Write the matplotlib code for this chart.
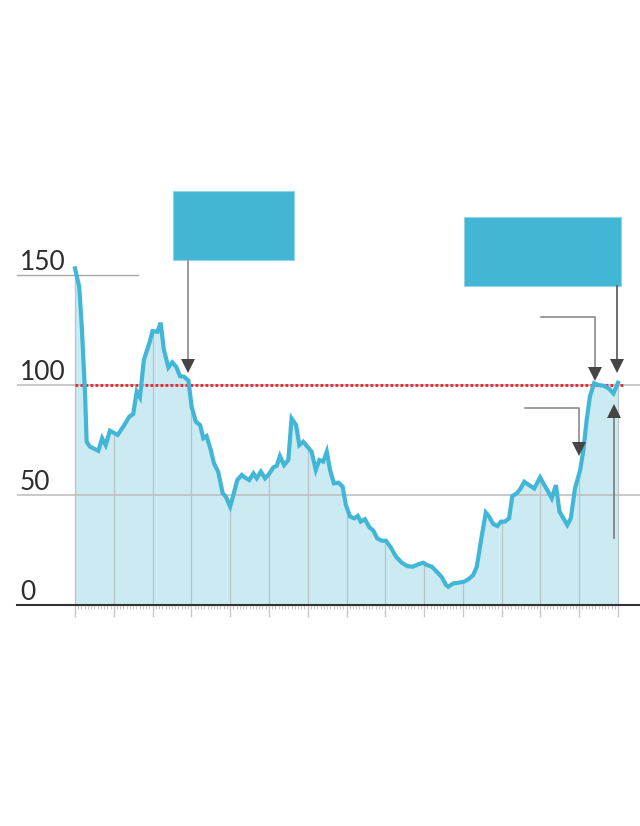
import numpy as np
import matplotlib
matplotlib.use("Agg")
import matplotlib.pyplot as plt
from matplotlib.patches import Rectangle

# ---- data (x in months from start, y = index value) ----
months = [0, 1.3, 2.1, 3.1, 3.6, 4.6, 5.7, 7.2, 8.4, 9.5, 10.8, 13.2, 14.9, 16.8, 18.0,
          19.1, 20.1, 21.3, 23.0, 24.0, 25.5, 26.5, 27.5, 28.9, 30.1, 31.3, 32.5, 33.7,
          35.1, 36.1, 37.4, 38.7, 39.7, 40.7, 42.0, 43.0, 44.3, 45.7, 46.7, 48.0, 49.0,
          50.2, 51.6, 52.9, 53.9, 55.2, 56.2, 57.5, 58.8, 59.8, 61.4, 62.4, 63.4, 64.7,
          66.0, 67.0, 68.4, 69.4, 70.6, 71.9, 73.2, 74.5, 75.6, 76.8, 77.9, 78.9, 80.1,
          81.5, 82.8, 83.8, 85.1, 86.4, 87.5, 88.4, 89.7, 91.1, 92.3, 93.5, 94.9, 96.2,
          97.7, 99.3, 101.1, 102.8, 104.5, 106.2, 107.8, 108.8, 110.4, 111.9, 113.5,
          114.8, 115.5, 117.0, 118.9, 120.4, 121.7, 123.2, 124.3, 125.8, 127.1, 128.1,
          129.4, 130.7, 131.8, 133.0, 134.3, 135.3, 136.7, 137.7, 139.0, 140.5, 142.1,
          143.9, 145.1, 146.4, 147.5, 148.8, 149.9, 151.1, 152.3, 153.4, 154.7, 156.3,
          157.3, 158.3, 159.3, 160.6, 161.9, 163.5, 165.1, 166.6, 168.0]
values = [153, 144.7, 126.5, 96.4, 74.2, 72, 71.2, 70.1, 75.8, 72.7, 79.2, 77.3, 81, 85.6,
          86.8, 97, 94.4, 111.4, 119, 124.5, 124.2, 128.3, 116, 108, 110.3, 108.3, 104,
          103.8, 102, 90, 83.3, 81.8, 75.8, 76.8, 70.5, 64.4, 60.6, 50.8, 49.2, 44.7, 50,
          56.8, 59.1, 57.6, 56.8, 59.8, 57.6, 60.6, 57.6, 59.1, 62.6, 63.2, 67.7, 63.6,
          65.9, 84.8, 81.8, 72.7, 74.2, 72, 69.7, 61.4, 65.9, 65.2, 69.7, 61.4, 55.3,
          55.6, 53.8, 45.5, 40.2, 39.4, 40.5, 37.9, 39, 35.3, 33.8, 30.3, 29.2, 29.2,
          26.2, 22, 19.2, 17.7, 17.4, 18.5, 19.2, 18.2, 17.4, 15.2, 12.6, 9.1, 8.3, 9.8,
          10.2, 10.6, 11.7, 13.6, 17.4, 31, 42, 40.2, 36.8, 35.9, 37.9, 37.9, 39.4, 49.5,
          50.8, 52.6, 56, 54.5, 53, 58, 54.8, 51.5, 48.5, 54.5, 42.4, 39.4, 36.4, 39.4,
          53, 61.4, 70.5, 84, 94.7, 100.8, 100, 99.7, 98.5, 96.2, 101]
y_ticks = [0, 50, 100, 150]
y_labels = ["0", "50", "100", "150"]
reference_level = 100
year_marks = list(range(0, 169, 12))

LINE = "#41b6d6"
FILL = "#cbeaf2"
BOX = "#42b7d5"

W, H = 640, 826
fig = plt.figure(figsize=(W / 100, H / 100), dpi=100)
ax = fig.add_axes([17 / W, (H - 605) / H, (640 - 17) / W, 605 / H])
px_per_month = 543 / 168
ax.set_xlim(-58 / px_per_month, 565 / px_per_month)
ax.set_ylim(0, 605 / 2.2)
for s in ["top", "right", "left"]:
    ax.spines[s].set_visible(False)
ax.spines["bottom"].set_color("#333333")
ax.spines["bottom"].set_linewidth(1.5)
ax.set_yticks([])

ax.set_xticks(year_marks)
ax.set_xticks([m for m in range(0, 169) if m % 12], minor=True)
ax.tick_params(axis="x", which="major", length=8.5, width=1, color="#c8c8c8",
               labelbottom=False)
ax.tick_params(axis="x", which="minor", length=3, width=0.8, color="#c8c8c8")

# area + line
ax.fill_between(months, values, 0, color=FILL, lw=0, zorder=1)
xs = np.array(year_marks, dtype=float)
ax.vlines(xs, 0, np.interp(xs, months, values), color="#b8c3c8", lw=0.9, zorder=2)

# horizontal grid
ax.axhline(50, color="#c0c0c0", lw=1.2, zorder=2)
ax.axhline(100, color="#c0c0c0", lw=1.2, zorder=2)
ax.plot([-58 / px_per_month, 63 / px_per_month], [150, 150], color="#a8a8a8", lw=1.0,
        zorder=2, clip_on=False)
ax.plot([months[0], 170], [reference_level, reference_level], color="#e8252e", lw=2.0,
        ls=(0, (1, 0.8)), zorder=3)

ax.plot(months, values, color=LINE, lw=3.0, zorder=4, solid_joinstyle="miter")

for val, lab in zip(y_ticks, y_labels):
    ax.text(-55 / px_per_month, val + 2.2, lab, fontsize=19, family="Lato",
            fontweight="normal", color="#2e2e2e", ha="left", va="baseline")

# ---- annotations ----
def m(px):
    return (px - 75) / px_per_month

def v(py):
    return (605 - py) / 2.2

HEAD = "#454545"
ax.add_patch(Rectangle((m(173), v(260)), m(294) - m(173), v(191) - v(260),
                       facecolor=BOX, edgecolor="#8fd4e8", lw=0.8, zorder=5))
ax.add_patch(Rectangle((m(464), v(286)), m(621) - m(464), v(217) - v(286),
                       facecolor=BOX, edgecolor="#8fd4e8", lw=0.8, zorder=5))

# arrow from box 1
ax.plot([m(188), m(188)], [v(260), v(362)], color="#9a9a9a", lw=1.4, zorder=5)
ax.plot([m(188)], [v(366)], marker="v", ms=9.5, color=HEAD, mew=0, zorder=6)
# arrow from box 2
ax.plot([m(617), m(617)], [v(286), v(362)], color="#555555", lw=1.2, zorder=5)
ax.plot([m(617)], [v(366)], marker="v", ms=9.5, color=HEAD, mew=0, zorder=6)
# elbow arrow 1
ax.plot([m(541), m(595), m(595)], [v(317), v(317), v(370)], color="#8a8a8a", lw=1.2,
        zorder=5)
ax.plot([m(595)], [v(374)], marker="v", ms=9.5, color=HEAD, mew=0, zorder=6)
# elbow arrow 2
ax.plot([m(525), m(579), m(579)], [v(408), v(408), v(445)], color="#8a8a8a", lw=1.2,
        zorder=5)
ax.plot([m(579)], [v(449)], marker="v", ms=9.5, color=HEAD, mew=0, zorder=6)
# up arrow
ax.plot([m(614), m(614)], [v(538), v(415)], color="#7a7a7a", lw=1.2, zorder=5)
ax.plot([m(614)], [v(411)], marker="^", ms=9.5, color=HEAD, mew=0, zorder=6)

fig.savefig("out.png", dpi=100, facecolor="white")
